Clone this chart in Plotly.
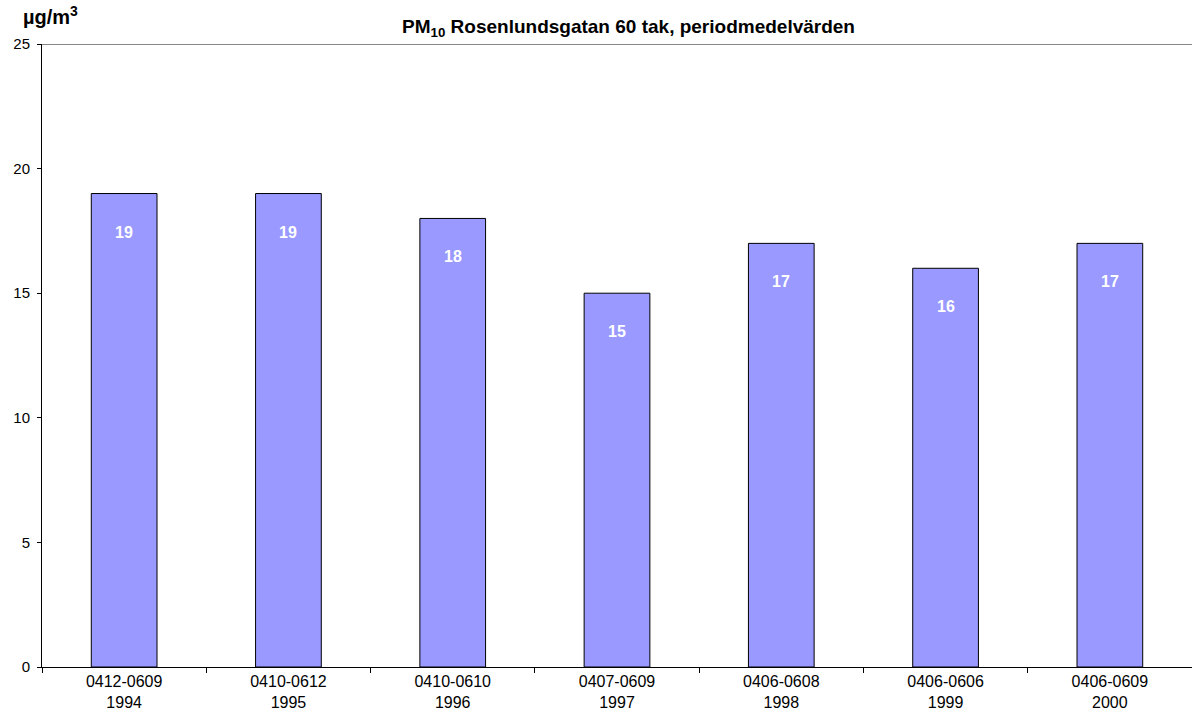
import plotly.graph_objects as go

periods = ["0412-0609", "0410-0612", "0410-0610", "0407-0609", "0406-0608", "0406-0606", "0406-0609"]
years = ["1994", "1995", "1996", "1997", "1998", "1999", "2000"]
pm10 = [19, 19, 18, 15, 17, 16, 17]
y_ticks = [0, 5, 10, 15, 20, 25]

categories = [f"{p}<br>{y}" for p, y in zip(periods, years)]
FONT = "Liberation Sans, Arial, sans-serif"

fig = go.Figure()
fig.add_trace(go.Bar(
    x=categories,
    y=pm10,
    width=0.4,
    marker=dict(color="#9999FF", line=dict(color="#000000", width=1)),
    hoverinfo="x+y",
))

# value labels inside the bars, below the top edge
for c, v in zip(categories, pm10):
    fig.add_annotation(
        x=c, y=v, text=f"<b>{v}</b>", showarrow=False,
        yanchor="top", yshift=-28,
        font=dict(family=FONT, size=16, color="#FFFFFF"),
    )

# frame line along the top of the plot area
fig.add_shape(type="line", xref="paper", yref="y", x0=0, x1=1, y0=25, y1=25,
              line=dict(color="#888888", width=2))

fig.add_annotation(
    xref="paper", yref="paper", x=0.5096, y=1.0, xanchor="center", yanchor="bottom",
    yshift=2,
    text="<b>PM<sub>10</sub> Rosenlundsgatan 60 tak, periodmedelvärden</b>",
    showarrow=False, font=dict(family=FONT, size=19, color="#000000"),
)
fig.add_annotation(
    xref="paper", yref="paper", x=0.007, y=1.0, xanchor="center", yanchor="bottom",
    yshift=14,
    text="<b>µg/m<sup>3</sup></b>",
    showarrow=False, font=dict(family=FONT, size=20, color="#000000"),
)

fig.update_layout(
    width=1192, height=724,
    margin=dict(l=42, r=0, t=44, b=57),
    paper_bgcolor="#FFFFFF", plot_bgcolor="#FFFFFF",
    showlegend=False,
    bargap=0.6,
    font=dict(family=FONT, size=15, color="#000000"),
    xaxis=dict(
        type="category", range=[-0.5, 6.5],
        showline=True, linecolor="#000000", linewidth=1,
        ticks="outside", tickson="boundaries", ticklen=5, tickcolor="#000000",
        showgrid=False, tickfont=dict(family=FONT, size=16),
    ),
    yaxis=dict(
        range=[0, 25], tickvals=y_ticks,
        showline=True, linecolor="#000000", linewidth=1,
        ticks="outside", ticklen=4, tickcolor="#000000",
        showgrid=False, zeroline=False, tickfont=dict(family=FONT, size=15),
        ticklabelstandoff=4,
    ),
)

fig.write_html("out.html")
